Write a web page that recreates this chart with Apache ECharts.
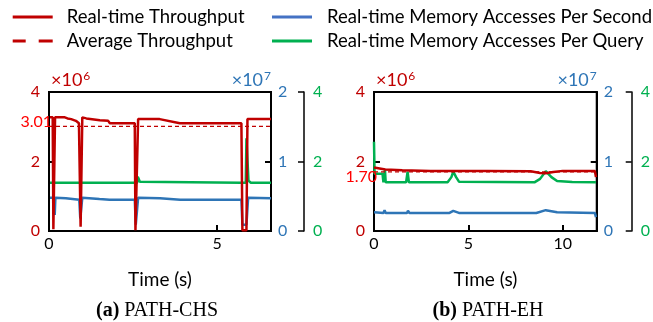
<!DOCTYPE html>
<html><head><meta charset="utf-8">
<script src="https://cdn.jsdelivr.net/npm/echarts@6/dist/echarts.min.js"></script>
<style>html,body{margin:0;padding:0;background:#fff}#c{width:653px;height:322px}</style>
</head><body><div id="c"></div>
<script>
// ---------- data ----------
const legendNames = ['Real-time Throughput','Average Throughput','Real-time Memory Accesses Per Second','Real-time Memory Accesses Per Query'];
const xTicksA = [0,5];
const xTicksB = [0,5,10];
const xMaxA = 6.6, xMaxB = 11.8;
// (a) PATH-CHS
const chsThrT = [0.03,0.11,0.13,0.16,0.18,0.47,0.55,0.66,0.80,0.89,0.92,0.94,0.97,0.99,1.11,1.51,1.76,1.81,2.55,2.57,2.62,2.65,3.29,3.89,5.72,5.75,5.87,5.90,6.6];
const chsThrV = [3.27,3.27,0.05,0.05,3.27,3.27,3.24,3.22,3.17,3.10,3.10,0.12,0.12,3.27,3.24,3.19,3.17,3.10,3.10,0.02,0.02,3.22,3.22,3.10,3.10,0.02,0.02,3.22,3.22];
const chsMpsT = [0.03,0.15,0.17,0.19,0.5,0.9,0.93,0.96,0.99,1.5,1.8,2.55,2.58,2.62,2.65,3.3,3.9,5.72,5.75,5.87,5.92,6.6];
const chsMpsV = [0.48,0.48,0.23,0.48,0.47,0.45,0.18,0.18,0.48,0.46,0.45,0.45,0.09,0.09,0.48,0.47,0.45,0.45,0.09,0.09,0.48,0.47];
const chsMpqT = [0.03,0.9,0.93,0.96,2.55,2.62,2.64,2.7,2.75,5.72,5.85,5.87,5.93,6.0,6.6];
const chsMpqV = [1.39,1.39,1.44,1.39,1.39,1.39,1.56,1.42,1.39,1.39,1.39,2.67,1.45,1.39,1.39];
const chsAvg = 3.01;
// (b) PATH-EH
const ehThrT = [0,0.3,0.6,1.5,3,6,8.3,8.8,9.1,9.5,10,11.7,11.76];
const ehThrV = [1.83,1.80,1.77,1.75,1.73,1.73,1.72,1.67,1.66,1.70,1.73,1.73,1.55];
const ehMpsT = [0,0.5,0.56,0.62,1.75,1.8,1.88,4.0,4.2,4.5,8.6,9.1,9.7,11.7,11.76];
const ehMpsV = [0.27,0.26,0.30,0.26,0.26,0.29,0.26,0.26,0.29,0.26,0.26,0.30,0.27,0.26,0.20];
const ehMpqT = [0,0.03,0.45,0.5,0.55,0.58,0.62,1.7,1.78,1.85,3.9,4.1,4.2,4.35,4.5,8.5,8.8,9.1,9.4,9.7,10.5,11.76];
const ehMpqV = [2.57,1.65,1.65,1.40,1.42,1.76,1.40,1.40,1.71,1.40,1.40,1.55,1.71,1.55,1.42,1.40,1.50,1.72,1.55,1.44,1.41,1.40];
const ehAvg = 1.70;

// ---------- style ----------
const RED = '#C00000', BRIGHT = '#FF0000', BLUE = '#2E75B6', LBLUE = '#4472C4', GREEN = '#00B050';
const FONT = 'Lato';
const zip = (t, v) => t.map((x, i) => [x, v[i]]);

function xAxis(gi, max, ticks) {
  return {
    type: 'value', gridIndex: gi, min: 0, max: max, interval: 5,
    axisLine: {show: true, lineStyle: {color: '#000', width: 2}},
    axisTick: {show: true, inside: true, length: 6, lineStyle: {color: '#000', width: 2}},
    axisLabel: {color: '#000', fontSize: 16, fontFamily: FONT, margin: 5,
      formatter: v => ticks.indexOf(v) >= 0 ? String(v) : ''},
    splitLine: {show: false},
    name: 'Time (s)', nameLocation: 'middle', nameGap: 39,
    nameTextStyle: {color: '#000', fontSize: 19, fontFamily: FONT}
  };
}
function yAxes(gi, greenOffset) {
  const sup = {a: {fontSize: 18, fontFamily: FONT}, b: {fontSize: 12, fontFamily: FONT, verticalAlign: 'top', padding: [0,0,9,1]}};
  return [
    {type: 'value', gridIndex: gi, position: 'left', min: 0, max: 4, interval: 2,
      axisLine: {show: true, lineStyle: {color: '#000', width: 2}},
      axisTick: {show: true, inside: true, length: 6, lineStyle: {color: '#000', width: 2}},
      axisLabel: {color: RED, fontSize: 16, fontFamily: FONT, margin: 9},
      splitLine: {show: false},
      name: '{a|×10}{b|6}', nameLocation: 'end', nameGap: 1,
      nameTextStyle: {color: RED, align: 'left', padding: [0,0,0,2], rich: {a: Object.assign({color: RED}, sup.a), b: Object.assign({color: RED}, sup.b)}}},
    {type: 'value', gridIndex: gi, position: 'right', min: 0, max: 2, interval: 1,
      axisLine: {show: true, lineStyle: {color: '#000', width: 2}},
      axisTick: {show: true, inside: true, length: 6, lineStyle: {color: '#000', width: 2}},
      axisLabel: {color: BLUE, fontSize: 16, fontFamily: FONT, margin: 7},
      splitLine: {show: false},
      name: '{a|×10}{b|7}', nameLocation: 'end', nameGap: 1,
      nameTextStyle: {color: BLUE, align: 'right', rich: {a: Object.assign({color: BLUE}, sup.a), b: Object.assign({color: BLUE}, sup.b)}}},
    {type: 'value', gridIndex: gi, position: 'right', offset: greenOffset, min: 0, max: 4, interval: 2,
      axisLine: {show: true, lineStyle: {color: '#000', width: 1.5}},
      axisTick: {show: true, inside: true, length: 6, lineStyle: {color: '#000', width: 1.5}},
      axisLabel: {color: GREEN, fontSize: 16, fontFamily: FONT, margin: 9},
      splitLine: {show: false}}
  ];
}
function seriesFor(gi, yBase, thrT, thrV, mpsT, mpsV, mpqT, mpqV, avg, xMax, lblOffset) {
  const common = {type: 'line', xAxisIndex: gi, symbol: 'none', animation: false};
  return [
    Object.assign({}, common, {name: legendNames[3], yAxisIndex: yBase + 2, data: zip(mpqT, mpqV),
      lineStyle: {color: GREEN, width: 2.5}, itemStyle: {color: GREEN}, z: 2}),
    Object.assign({}, common, {name: legendNames[2], yAxisIndex: yBase + 1, data: zip(mpsT, mpsV),
      lineStyle: {color: BLUE, width: 2.5}, itemStyle: {color: BLUE}, z: 3}),
    Object.assign({}, common, {name: legendNames[1], yAxisIndex: yBase, data: [[0, avg], [xMax, avg]],
      lineStyle: {color: RED, width: 1.3, type: [4, 3]}, itemStyle: {color: RED}, z: 4,
      markPoint: {symbol: 'circle', symbolSize: 0, silent: true, animation: false,
        data: [{coord: [0, avg], value: avg}],
        label: {show: true, position: 'left', distance: 0, offset: lblOffset, color: BRIGHT, fontSize: 16, fontFamily: FONT,
          formatter: p => avg.toFixed(2)}}}),
    Object.assign({}, common, {name: legendNames[0], yAxisIndex: yBase, data: zip(thrT, thrV),
      lineStyle: {color: RED, width: 2.5}, itemStyle: {color: RED}, z: 5})
  ];
}

const SOLID = 'path://M0,0H40V3H0Z';
const DASHED = 'path://M0,0H13V3H0Z M26,0H40V3H26Z';
const legendBase = {top: 2.5, orient: 'vertical', itemWidth: 40, itemHeight: 3, itemGap: 5};
const option = {
  animation: false,
  backgroundColor: '#fff',
  title: [
    {text: '{b|(a)} PATH-CHS', left: 152, top: 296, textAlign: 'center',
      textStyle: {fontFamily: 'Liberation Serif', fontSize: 20, fontWeight: 'normal', color: '#000',
        rich: {b: {fontFamily: 'Liberation Serif', fontSize: 20, fontWeight: 'bold', color: '#000'}}}},
    {text: '{b|(b)} PATH-EH', left: 483, top: 296, textAlign: 'center',
      textStyle: {fontFamily: 'Liberation Serif', fontSize: 20, fontWeight: 'normal', color: '#000',
        rich: {b: {fontFamily: 'Liberation Serif', fontSize: 20, fontWeight: 'bold', color: '#000'}}}}
  ],
  legend: [
    Object.assign({left: 7.7}, legendBase, {
      textStyle: {fontSize: 18.5, fontFamily: FONT, color: '#000', padding: [0, 0, 0, 9]},
      data: [{name: legendNames[0], icon: SOLID}, {name: legendNames[1], icon: DASHED}]}),
    Object.assign({left: 267}, legendBase, {
      textStyle: {fontSize: 18.5, fontFamily: FONT, color: '#000', padding: [0, 0, 0, 10]},
      data: [{name: legendNames[2], icon: SOLID, itemStyle: {color: LBLUE}}, {name: legendNames[3], icon: SOLID}]})
  ],
  grid: [
    {left: 49, top: 92, width: 222, height: 139, show: true, borderColor: '#000', borderWidth: 2, containLabel: false},
    {left: 374, top: 92, width: 223, height: 139, show: true, borderColor: '#000', borderWidth: 2, containLabel: false}
  ],
  xAxis: [xAxis(0, xMaxA, xTicksA), xAxis(1, xMaxB, xTicksB)],
  yAxis: yAxes(0, 33).concat(yAxes(1, 35)),
  series: seriesFor(0, 0, chsThrT, chsThrV, chsMpsT, chsMpsV, chsMpqT, chsMpqV, chsAvg, xMaxA, [3, -5])
    .concat(seriesFor(1, 3, ehThrT, ehThrV, ehMpsT, ehMpsV, ehMpqT, ehMpqV, ehAvg, xMaxB, [3, 5]))
};
const chart = echarts.init(document.getElementById('c'), null, {renderer: 'canvas'});
chart.setOption(option);
</script></body></html>
